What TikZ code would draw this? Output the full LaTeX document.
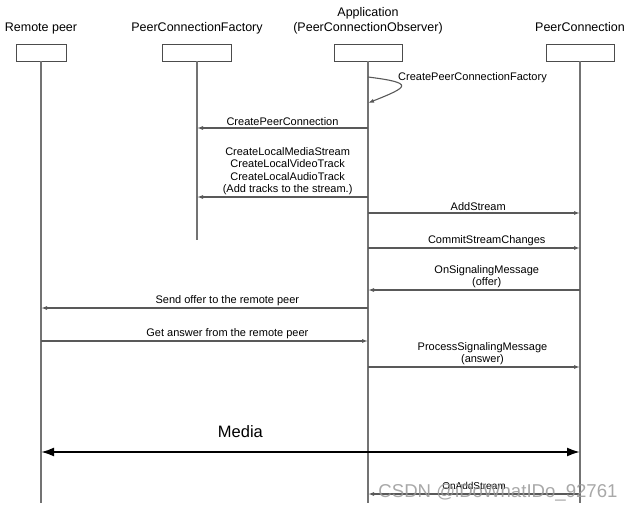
\documentclass[tikz,border=0pt]{standalone}
\usepackage{fontspec}
\setmainfont{Liberation Sans}
\usetikzlibrary{arrows.meta}
\tikzset{
	head/.style={draw=black!70,line width=.9pt,minimum width=#1,minimum height=17pt,inner sep=0pt},
	title/.style={font=\fontsize{12.5}{15}\selectfont,align=center,text depth=2.8pt,inner sep=0pt,anchor=south},
	life/.style={draw=black!55,line width=1.3pt},
	msg/.style={draw=black!65,line width=1.1pt,-{Latex[length=6pt,width=4pt]}},
	lbl/.style={font=\fontsize{11}{12.5}\selectfont,align=center,inner sep=1.5pt,text=black}
}
\begin{document}
\begin{tikzpicture}[x=1pt,y=-1pt]
		\useasboundingbox (0,0) rectangle (634,511);
		\foreach \n/\x/\w/\e/\t in {rp/41/50/503/Remote peer,fac/197/69/240/PeerConnectionFactory,app/368/68/503/Application\\(PeerConnectionObserver),pc/580/68/503/PeerConnection}{
			\node[head=\w] (\n) at (\x,52.5) {};
			\node[title] (\n-t) at (\x,34.3) {\t};
			\path (\x,\e) coordinate (\n-e);
			\draw[life] (\n.south) -- (\n-e);
		}
		\path
		\foreach \m/\y in {cpf/77,cpfe/103,cpc/128,cls/197,ast/213,csc/248,osm/290,sor/308,gar/341,psm/367,med/452,oas/494}{(0,\y) coordinate (\m)};
		\draw[msg] (app |- cpf) .. controls +(48,6) and +(40,-16) .. (app |- cpfe);
		\node[lbl,anchor=west] (cpf-t) at ([xshift=28.5pt,yshift=-1pt]app |- cpf) {CreatePeerConnectionFactory};
		\foreach \a/\b/\m/\p/\t in {app/fac/cpc/.5/CreatePeerConnection,app/fac/cls/.47/CreateLocalMediaStream\\CreateLocalVideoTrack\\CreateLocalAudioTrack\\(Add tracks to the stream.),app/pc/ast/.52/AddStream,app/pc/csc/.56/CommitStreamChanges,pc/app/osm/.44/OnSignalingMessage\\(offer),app/rp/sor/.43/Send offer to the remote peer,rp/app/gar/.57/Get answer from the remote peer,app/pc/psm/.54/ProcessSignalingMessage\\(answer)}
		\draw[msg] (\a |- \m) -- (\b |- \m) node[lbl,pos=\p,above] {\t};
		\draw[line width=2pt,{Latex[length=13pt,width=9pt]}-{Latex[length=13pt,width=9pt]}] (rp |- med) -- (pc |- med) node[pos=.37,above=10pt,font=\fontsize{16.5}{18}\selectfont] (med-t) {Media};
		\draw[msg] (pc |- oas) -- (app |- oas) node[lbl,midway,above=2pt,font=\fontsize{10}{12}\selectfont] (oas-t) {OnAddStream};
		\node[text=black!40,opacity=.85,font=\fontsize{18.6}{20}\selectfont] (csdn) at (498,493) {CSDN @iDoWhatIDo\_92761};
	\end{tikzpicture}
\end{document}
